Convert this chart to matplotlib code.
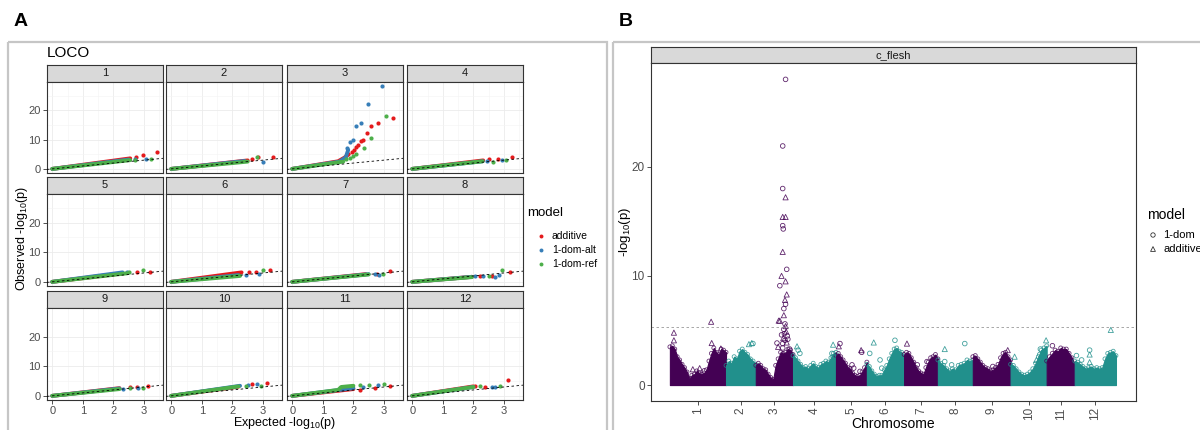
import numpy as np
import matplotlib.pyplot as plt
from matplotlib.patches import Rectangle
from matplotlib.ticker import MultipleLocator

plt.rcParams['font.family'] = ['Liberation Sans', 'DejaVu Sans']
plt.rcParams['mathtext.fontset'] = 'custom'
plt.rcParams['mathtext.rm'] = 'Liberation Sans'
plt.rcParams['mathtext.it'] = 'Liberation Sans'

# ---------------- panel A : QQ plots per chromosome ----------------
chroms = ['1', '2', '3', '4', '5', '6', '7', '8', '9', '10', '11', '12']
models_a = ['additive', '1-dom-alt', '1-dom-ref']

# dense part of each QQ curve (polyline), one entry per chromosome
additive_body = [
    [(0, 0), (2.55, 3.6)], [(0, 0), (2.5, 2.9)],
    [(0, 0), (1.5, 2.6), (1.7, 3.8), (1.85, 5.0)],
    [(0, 0), (2.32, 2.9)], [(0, 0), (2.3, 2.9)], [(0, 0), (2.3, 3.2)],
    [(0, 0), (2.4, 2.6)], [(0, 0), (1.95, 1.7)], [(0, 0), (2.2, 2.6)],
    [(0, 0), (2.2, 3.1)], [(0, 0), (2.0, 2.3)], [(0, 0), (2.0, 3.2)],
]
alt_body = [
    [(0, 0), (2.5, 3.2)], [(0, 0), (2.4, 2.7)],
    [(0, 0), (1.55, 2.5), (1.75, 4.0), (1.83, 6.5)],
    [(0, 0), (2.3, 2.6)], [(0, 0), (2.3, 3.2)], [(0, 0), (2.2, 2.3)],
    [(0, 0), (2.5, 2.6)], [(0, 0), (1.95, 1.7)], [(0, 0), (2.2, 2.5)],
    [(0, 0), (2.25, 3.4)], [(0, 0), (2.0, 2.6)], [(0, 0), (2.0, 3.0)],
]
ref_body = [
    [(0, 0), (2.55, 3.0)], [(0, 0), (2.5, 2.5)], [(0, 0), (1.67, 2.5)],
    [(0, 0), (2.3, 2.6)], [(0, 0), (2.45, 2.9)], [(0, 0), (2.25, 2.0)],
    [(0, 0), (2.5, 2.5)], [(0, 0), (1.95, 1.6)], [(0, 0), (2.2, 2.3)],
    [(0, 0), (2.2, 3.2)], [(0, 0), (1.5, 2.0), (1.6, 3.0), (2.0, 3.4)],
    [(0, 0), (2.0, 3.0)],
]
# sparse upper tail points
additive_tail = [
    [(2.75, 4.1), (2.97, 4.8), (3.43, 5.8)],
    [(2.63, 3.3), (2.85, 3.9), (3.34, 3.9)],
    [(1.95, 5.9), (2.02, 6.5), (2.1, 7.5), (2.16, 8.1), (2.25, 9.6), (2.3, 9.9),
     (2.43, 12.1), (2.57, 14.7), (2.79, 15.6), (3.28, 17.4)],
    [(2.5, 3.3), (2.8, 3.5), (3.27, 3.9)],
    [(2.76, 3.3), (3.2, 3.3)],
    [(2.55, 3.4), (2.77, 3.5), (3.23, 3.9)],
    [(2.78, 2.6), (3.2, 3.7)],
    [(2.2, 2.0), (2.6, 2.0), (3.2, 3.2)],
    [(2.54, 3.0), (2.76, 3.0), (3.14, 3.5)],
    [(2.63, 4.0), (3.12, 4.5)],
    [(2.2, 2.0), (2.7, 2.8), (3.2, 3.4)],
    [(2.05, 3.4), (2.37, 3.0), (3.12, 5.4)],
]
alt_tail = [
    [(2.7, 3.3), (3.07, 3.4)],
    [(3.0, 2.5)],
    [(1.8, 7.1), (1.89, 9.2), (2.0, 10.0), (2.1, 14.7), (2.24, 15.6),
     (2.47, 22.3), (2.92, 28.2)],
    [(2.45, 2.8), (2.92, 2.9)],
    [(2.45, 3.3)],
    [(2.43, 2.3), (2.88, 2.5)],
    [(2.7, 2.6), (2.83, 2.3)],
    [(2.05, 1.9), (2.3, 1.9), (2.7, 1.8), (2.85, 2.3)],
    [(2.32, 2.3), (2.8, 2.5)],
    [(2.5, 3.6), (2.8, 4.0)],
    [(2.3, 2.9), (2.81, 3.75)],
    [(2.6, 3.0), (2.7, 3.0)],
]
ref_tail = [
    [(2.7, 3.2), (3.23, 3.4)],
    [(2.81, 4.0)],
    [(1.75, 3.4), (1.9, 3.8), (2.0, 4.3), (2.1, 5.0), (2.36, 7.3),
     (2.57, 10.7), (3.05, 18.2)],
    [(2.65, 2.5), (3.07, 2.9)],
    [(2.52, 3.3), (2.98, 3.9)],
    [(3.0, 4.1)],
    [(2.96, 2.6)],
    [(2.5, 2.0), (2.94, 4.0)],
    [(2.54, 2.6), (2.98, 2.6)],
    [(2.44, 3.4), (2.92, 3.4)],
    [(2.2, 3.75), (2.5, 3.75), (3.0, 4.1)],
    [(2.2, 3.4), (2.87, 3.5)],
]
colors_a = ['#E41A1C', '#377EB8', '#4DAF4A']

# ---------------- panel B : Manhattan plot ----------------
chrom_len = [98, 52, 65, 75, 54, 65, 59, 61, 66, 63, 49, 72]
# top of the dense point cloud, evenly spaced along each chromosome
cloud_top = [
    [3.5, 3.6, 3.3, 2.6, 2.3, 1.9, 1.6, 1.2, 0.6, 0.9, 1.0, 1.3, 1.1, 1.0, 1.1,
     1.4, 2.2, 2.9, 3.4, 3.0, 2.8, 3.3, 3.2, 3.0],
    [1.8, 2.2, 2.0, 2.6, 2.4, 3.1, 3.3, 3.0, 2.8, 2.4, 2.2, 1.9],
    [1.8, 2.0, 1.8, 1.5, 1.4, 1.0, 0.7, 0.5, 1.8, 2.4, 3.0, 2.9, 3.0, 3.3, 3.2, 2.8],
    [2.7, 2.5, 2.2, 1.9, 1.6, 1.7, 1.5, 1.8, 2.0, 1.7, 1.6, 1.9, 2.0, 2.2, 2.1,
     2.5, 2.9, 3.0],
    [2.7, 2.9, 2.6, 2.3, 2.0, 1.6, 1.5, 1.1, 0.9, 0.8, 0.9, 1.2, 1.6, 2.1],
    [1.9, 1.7, 1.3, 1.0, 0.8, 0.9, 0.9, 1.4, 1.8, 2.4, 2.9, 3.3, 3.4, 3.1, 3.0, 2.6],
    [2.8, 3.0, 2.9, 2.5, 2.1, 1.6, 1.3, 1.1, 1.0, 1.6, 2.1, 2.5, 2.6, 2.8, 2.4],
    [2.3, 2.0, 1.8, 1.5, 1.3, 1.5, 1.4, 1.8, 1.9, 2.0, 2.3, 2.2, 2.3],
    [2.6, 2.7, 2.4, 2.1, 1.8, 1.6, 1.5, 1.3, 1.4, 1.6, 1.9, 2.5, 2.9, 3.0, 2.6, 2.3],
    [1.9, 1.8, 1.5, 1.2, 1.0, 0.9, 1.0, 1.2, 1.5, 2.0, 2.6, 3.2, 3.4, 3.6],
    [2.2, 2.6, 2.9, 3.2, 3.1, 3.4, 3.3, 3.3, 2.9, 2.5, 1.9],
    [2.2, 2.1, 1.9, 1.7, 1.5, 1.6, 1.7, 1.5, 1.6, 1.5, 1.6, 2.4, 2.9, 3.0, 3.1, 2.7],
]
# individual markers standing out above the cloud
hit_chrom = [1, 1, 1, 1, 1, 1, 1, 1,
             2, 2, 2, 2, 2,
             3, 3, 3, 3, 3, 3, 3, 3, 3, 3, 3, 3, 3, 3, 3, 3, 3, 3, 3, 3, 3, 3,
             3, 3, 3, 3, 3, 3, 3, 3, 3, 3, 3, 3, 3, 3,
             4, 4, 4, 4, 4, 4,
             5, 5, 5, 5, 5, 5, 5,
             6, 6, 6, 6, 6,
             7, 7, 7,
             8, 8, 8, 8,
             9, 9,
             10, 10, 10, 10, 10,
             11,
             12, 12, 12, 12, 12, 12]
hit_pos = [7, 7, 72, 73, 89, 40, 52, 60,
           40, 45, 47, 19, 28,
           52, 47, 47, 52, 47, 52, 47, 48, 47, 54, 45, 52, 42, 54, 51, 52,
           49, 49, 42, 40, 51, 52, 49, 53, 50, 55, 48, 51, 54, 47, 37, 39,
           47, 59, 56, 45,
           7, 9, 12, 70, 68, 70,
           7, 5, 28, 31, 42, 44, 45,
           12, 5, 23, 26, 49,
           5, 23, 40,
           12, 47, 12, 24,
           61, 35,
           7, 52, 51, 45, 62,
           10,
           3, 26, 26, 26, 63, 12]
hit_logp = [4.8, 4.1, 5.8, 3.85, 3.35, 1.45, 1.55, 1.3,
            3.75, 3.85, 3.8, 2.2, 2.9,
            28.0, 21.9, 18.0, 17.2, 15.4, 15.4, 14.6, 14.3, 12.2, 10.6, 10.0,
            9.5, 9.1, 8.3, 7.8, 7.4, 7.0, 6.4, 5.9, 5.9, 5.6, 5.4, 5.1, 4.9,
            4.7, 4.5, 4.3, 4.1, 3.9, 3.8, 3.85, 3.5, 3.4, 3.3, 4.2, 4.6,
            3.55, 3.2, 2.9, 3.7, 2.9, 2.6,
            3.8, 3.55, 1.85, 1.55, 1.25, 3.2, 3.0,
            3.9, 2.9, 2.3, 1.55, 4.1,
            3.8, 1.85, 2.15,
            3.3, 3.8, 2.15, 1.85,
            3.2, 1.7,
            2.6, 3.3, 2.8, 2.3, 4.1,
            3.6,
            2.7, 3.2, 2.8, 2.1, 5.05, 2.3]
hit_model = ['additive', 'additive', 'additive', 'additive', 'additive', 'additive', 'additive', '1-dom',
             'additive', 'additive', '1-dom', '1-dom', '1-dom',
             '1-dom', '1-dom', '1-dom', 'additive', 'additive', 'additive', '1-dom', '1-dom',
             'additive', '1-dom', 'additive', 'additive', '1-dom', 'additive', 'additive', '1-dom',
             '1-dom', 'additive', 'additive', 'additive', '1-dom', 'additive', '1-dom', 'additive',
             '1-dom', '1-dom', 'additive', '1-dom', 'additive', '1-dom', '1-dom', 'additive',
             '1-dom', '1-dom', '1-dom', '1-dom',
             'additive', '1-dom', '1-dom', 'additive', '1-dom', '1-dom',
             '1-dom', 'additive', '1-dom', '1-dom', '1-dom', 'additive', '1-dom',
             'additive', '1-dom', '1-dom', '1-dom', '1-dom',
             'additive', '1-dom', '1-dom',
             'additive', '1-dom', '1-dom', '1-dom',
             'additive', '1-dom',
             'additive', '1-dom', '1-dom', 'additive', 'additive',
             '1-dom',
             '1-dom', '1-dom', 'additive', 'additive', 'additive', '1-dom']
threshold = 5.3
chrom_colors = ['#440154', '#21908C']

W, H = 1200, 430
fig = plt.figure(figsize=(12, 4.3), dpi=100)


def px_axes(left, top, right, bottom):
    return fig.add_axes([left / W, 1 - bottom / H, (right - left) / W, (bottom - top) / H])


# overlay for frames, legends and free text (pixel coordinates)
ov = px_axes(0, 0, W, H)
ov.set_xlim(0, W)
ov.set_ylim(H, 0)
ov.axis('off')
for x0, x1 in [(8, 607), (613, 1204)]:
    ov.add_patch(Rectangle((x0, 42), x1 - x0, 400, fill=False, ec='#C6C6C6', lw=1.6))
ov.text(14, 22, 'A', fontsize=14, fontweight='bold', va='center')
ov.text(619, 22, 'B', fontsize=14, fontweight='bold', va='center')
ov.text(47, 53, 'LOCO', fontsize=11, va='center')
ov.text(285, 423, 'Expected -log$_{10}$(p)', fontsize=9, ha='center', va='center')
ov.text(22, 238, 'Observed -log$_{10}$(p)', fontsize=9, ha='center', va='center',
        rotation=90)
# legend A
ov.text(527, 213, 'model', fontsize=9.5, va='center')
for k, m in enumerate(models_a):
    ov.scatter([541], [236 + 14 * k], s=8, color=colors_a[k], lw=0)
    ov.text(552, 236 + 14 * k, m, fontsize=7.5, va='center')

narrow = ['Liberation Sans Narrow', 'Liberation Sans', 'DejaVu Sans']
ov.text(625, 232, '-log$_{10}$(p)', fontsize=9.5, ha='center', va='center', rotation=90,
        family=narrow)
ov.text(893, 424, 'Chromosome', fontsize=10, ha='center', va='center', family=narrow)
ov.text(1147, 215, 'model', fontsize=10, va='center', family=narrow)
ov.scatter([1153], [235], s=10, marker='o', facecolors='none', edgecolors='#333333', lw=0.6)
ov.scatter([1153], [249], s=12, marker='^', facecolors='none', edgecolors='#333333', lw=0.6)
ov.text(1163, 235, '1-dom', fontsize=8, va='center', family=narrow)
ov.text(1163, 249, 'additive', fontsize=8, va='center', family=narrow)

# ---------- facets of panel A ----------
col_left = [47, 166, 287, 407]
row_strip = [65, 177, 291]
row_bottom = [173, 286, 400]
bodies = [additive_body, alt_body, ref_body]
tails = [additive_tail, alt_tail, ref_tail]

for i, ch in enumerate(chroms):
    r, c = divmod(i, 4)
    L = col_left[c]
    st = row_strip[r]
    sax = px_axes(L, st, L + 116, st + 17)
    sax.set_facecolor('#D9D9D9')
    sax.set_xticks([])
    sax.set_yticks([])
    for s in sax.spines.values():
        s.set_color('#333333')
        s.set_linewidth(0.8)
    sax.text(0.5, 0.5, ch, transform=sax.transAxes, ha='center', va='center',
             fontsize=8, color='#1A1A1A')

    ax = px_axes(L, st + 17, L + 116, row_bottom[r])
    ax.set_xlim(-0.17, 3.62)
    ax.set_ylim(-1.4, 29.7)
    ax.xaxis.set_major_locator(MultipleLocator(1))
    ax.xaxis.set_minor_locator(MultipleLocator(0.5))
    ax.yaxis.set_major_locator(MultipleLocator(10))
    ax.yaxis.set_minor_locator(MultipleLocator(5))
    ax.grid(which='major', color='#EBEBEB', lw=0.6)
    ax.grid(which='minor', color='#F4F4F4', lw=0.4)
    ax.set_axisbelow(True)
    for s in ax.spines.values():
        s.set_color('#333333')
        s.set_linewidth(0.8)
    ax.tick_params(which='both', length=0)
    ax.tick_params(which='major', labelsize=8, labelcolor='#4D4D4D', color='#333333',
                   width=0.6, pad=1.5)
    if c == 0:
        ax.tick_params(axis='y', which='major', length=3)
    else:
        ax.tick_params(axis='y', labelleft=False)
    if r == 2:
        ax.tick_params(axis='x', which='major', length=3)
    else:
        ax.tick_params(axis='x', labelbottom=False)

    for k in range(3):
        bxs, bys = zip(*bodies[k][i])
        ax.plot(bxs, bys, color=colors_a[k], lw=2.8, solid_capstyle='round', zorder=2 + k)
        tx, ty = zip(*tails[k][i])
        ax.scatter(tx, ty, s=9, color=colors_a[k], lw=0, zorder=2 + k)
    ax.axline((0, 0), slope=1, color='black', ls=(0, (3, 3)), lw=0.6, zorder=6)

# ---------- panel B ----------
starts = np.concatenate([[0], np.cumsum(chrom_len)[:-1]])
total = sum(chrom_len)
sb = px_axes(651, 47, 1136, 63)
sb.set_facecolor('#D9D9D9')
sb.set_xticks([])
sb.set_yticks([])
for s in sb.spines.values():
    s.set_color('#333333')
    s.set_linewidth(0.8)
sb.text(0.5, 0.5, 'c_flesh', transform=sb.transAxes, ha='center', va='center',
        fontsize=8, color='#1A1A1A', family=narrow)

bx = px_axes(651, 63, 1136, 401)
bx.set_xlim(-33, total + 35)
bx.set_ylim(-1.46, 29.5)
for i in range(len(chrom_len)):
    col = chrom_colors[i % 2]
    xs = starts[i] + np.linspace(0, chrom_len[i], len(cloud_top[i]))
    bx.fill_between(xs, 0, cloud_top[i], color=col, lw=0.8, edgecolor=col)
    # ragged top edge of the cloud made of open markers
    bx.scatter(xs, cloud_top[i], s=8, marker='o', facecolors='none', edgecolors=col,
               lw=0.6, alpha=0.8)
for ch, pos, lp, m in zip(hit_chrom, hit_pos, hit_logp, hit_model):
    col = chrom_colors[(ch - 1) % 2]
    mk = 'o' if m == '1-dom' else '^'
    bx.scatter(starts[ch - 1] + pos, lp, s=11 if mk == 'o' else 14, marker=mk,
               facecolors='none', edgecolors=col, lw=0.6, alpha=0.85)
bx.axhline(threshold, color='#999999', ls=(0, (3, 3)), lw=0.6)
bx.set_xticks(starts + np.array(chrom_len) / 2)
bx.set_xticklabels(chroms, rotation=90, family=narrow)
bx.set_yticks([0, 10, 20])
bx.set_yticklabels(['0', '10', '20'], family=narrow)
bx.tick_params(labelsize=8.5, labelcolor='#4D4D4D', color='#333333', length=3,
               width=0.6, pad=1.5)
for s in bx.spines.values():
    s.set_color('#333333')
    s.set_linewidth(0.8)

fig.savefig('out.png', dpi=100)
